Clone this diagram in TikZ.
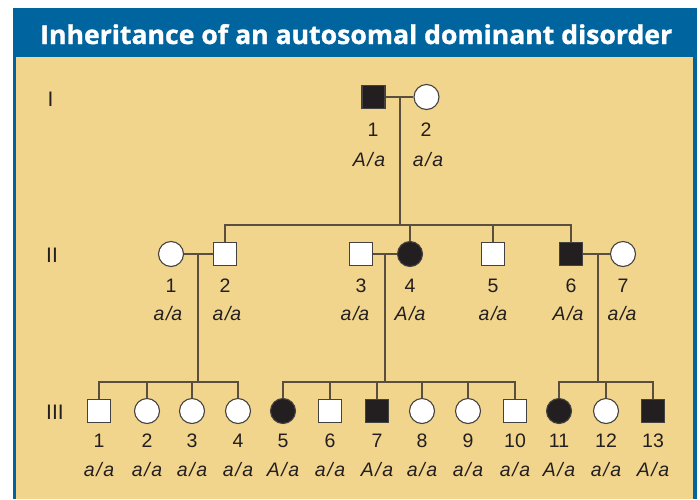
\documentclass[tikz,border=0pt]{standalone}
\usepackage{fontspec}
\setmainfont{Liberation Sans}
\newfontfamily\titlefont[BoldFeatures={FakeBold=1.2}]{Open Sans}
\newfontfamily\genofont[LetterSpace=8]{Liberation Sans}
\definecolor{framblue}{HTML}{00649E}
\definecolor{paper}{HTML}{F2D58C}
\definecolor{lin}{HTML}{5A4E3E}
\definecolor{inkblk}{HTML}{231F20}
\begin{document}
\begin{tikzpicture}[x=1pt,y=-1pt,
  sym/.style={draw=inkblk!85, line width=1.1pt, inner sep=0pt},
  male/.style={sym, rectangle, minimum size=23pt},
  female/.style={sym, circle, minimum size=25pt},
  aff/.style={fill=inkblk},
  unaff/.style={fill=white},
  conn/.style={draw=lin, line width=1.2pt},
  num/.style={font=\fontsize{19.5}{20}\selectfont, text=inkblk, anchor=base, inner sep=0pt},
  geno/.style={font=\fontsize{19.5}{20}\selectfont\genofont\itshape, text=inkblk, anchor=base, inner sep=0pt},
  genlab/.style={font=\fontsize{21}{21}\selectfont, text=inkblk, inner sep=0pt}]
\useasboundingbox (0,0) rectangle (700,499);
\fill[white] (0,0) rectangle (700,499);
\fill[framblue] (13,8) rectangle (697,499);
\fill[paper] (16,57) rectangle (693,499);
\node[anchor=base west, inner sep=0pt, text=white] (title) at (40,44)
  {\resizebox{632pt}{\height}{\fontsize{26}{26}\selectfont\titlefont\bfseries Inheritance of an autosomal dominant disorder}};
% generation labels
\node[genlab] (gI) at (50.5,99) {I};
\node[genlab] (gII) at (52,255) {II};
\node[genlab] (gIII) at (55,412) {III};
% Generation I
\node[male,aff] (I1) at (373.5,97) {};
\node[female,unaff] (I2) at (426.5,97) {};
% Generation II
\node[female,unaff] (II1) at (171,254) {};
\node[male,unaff] (II2) at (225,254) {};
\node[male,unaff] (II3) at (361,254) {};
\node[female,aff] (II4) at (410,254) {};
\node[male,unaff] (II5) at (493,254) {};
\node[male,aff] (II6) at (571,254) {};
\node[female,unaff] (II7) at (623,254) {};
% Generation III
\node[male,unaff] (III1) at (99,411) {};
\node[female,unaff] (III2) at (147,411) {};
\node[female,unaff] (III3) at (192,411) {};
\node[female,unaff] (III4) at (238,411) {};
\node[female,aff] (III5) at (283,411) {};
\node[male,unaff] (III6) at (330,411) {};
\node[male,aff] (III7) at (377,411) {};
\node[female,unaff] (III8) at (422,411) {};
\node[female,unaff] (III9) at (468,411) {};
\node[male,unaff] (III10) at (515,411) {};
\node[female,aff] (III11) at (559,411) {};
\node[female,unaff] (III12) at (606,411) {};
\node[male,aff] (III13) at (653,411) {};
% connectors
\coordinate (m1) at (400,97);
\coordinate (s1) at (400,225);
\coordinate (m2) at (198,254);
\coordinate (s2) at (198,382);
\coordinate (m3) at (385,254);
\coordinate (s3) at (385,382);
\coordinate (m4) at (598,254);
\coordinate (s4) at (598,382);
\path[conn] (I1) -- (I2);
\path[conn] (m1) -- (s1);
\path[conn] (II2.north) |- (s1) -| (II6.north);
\path[conn] (II4.north) -- (II4.north |- s1);
\path[conn] (II5.north) -- (II5.north |- s1);
\path[conn] (II1) -- (II2);
\path[conn] (m2) -- (s2);
\path[conn] (III1.north) |- (s2) -| (III4.north);
\path[conn] (III2.north) -- (III2.north |- s2);
\path[conn] (III3.north) -- (III3.north |- s2);
\path[conn] (II3) -- (II4);
\path[conn] (m3) -- (s3);
\path[conn] (III5.north) |- (s3) -| (III10.north);
\foreach \k in {6,7,8,9} \path[conn] (III\k.north) -- (III\k.north |- s3);
\path[conn] (II6) -- (II7);
\path[conn] (m4) -- (s4);
\path[conn] (III11.north) |- (s4) -| (III13.north);
\path[conn] (III12.north) -- (III12.north |- s4);
% labels gen I
\node[num] (nI1) at (373,136) {1};
\node[num] (nI2) at (426,136) {2};
\node[geno] (gtI1) at (369,166) {A/a};
\node[geno] (gtI2) at (428,166) {a/a};
% labels gen II
\foreach \n/\x/\g/\gx in {1/171/a\slash a/168, 2/225/a\slash a/227, 3/361/a\slash a/355, 4/410/A\slash a/410, 5/493/a\slash a/493, 6/571/A\slash a/568, 7/623/a\slash a/622}{
  \node[num] (nII\n) at (\x,292) {\n};
  \node[geno] (gtII\n) at (\gx,320) {\g};
}
% labels gen III
\foreach \n/\x/\g in {1/99/a, 2/147/a, 3/192/a, 4/238/a, 5/283/A, 6/330/a, 7/377/A, 8/422/a, 9/468/a, 10/515/a, 11/559/A, 12/606/a, 13/653/A}{
  \node[num] (nIII\n) at (\x,447) {\n};
  \node[geno] (gtIII\n) at (\x,476) {\g/a};
}
\end{tikzpicture}
\end{document}
